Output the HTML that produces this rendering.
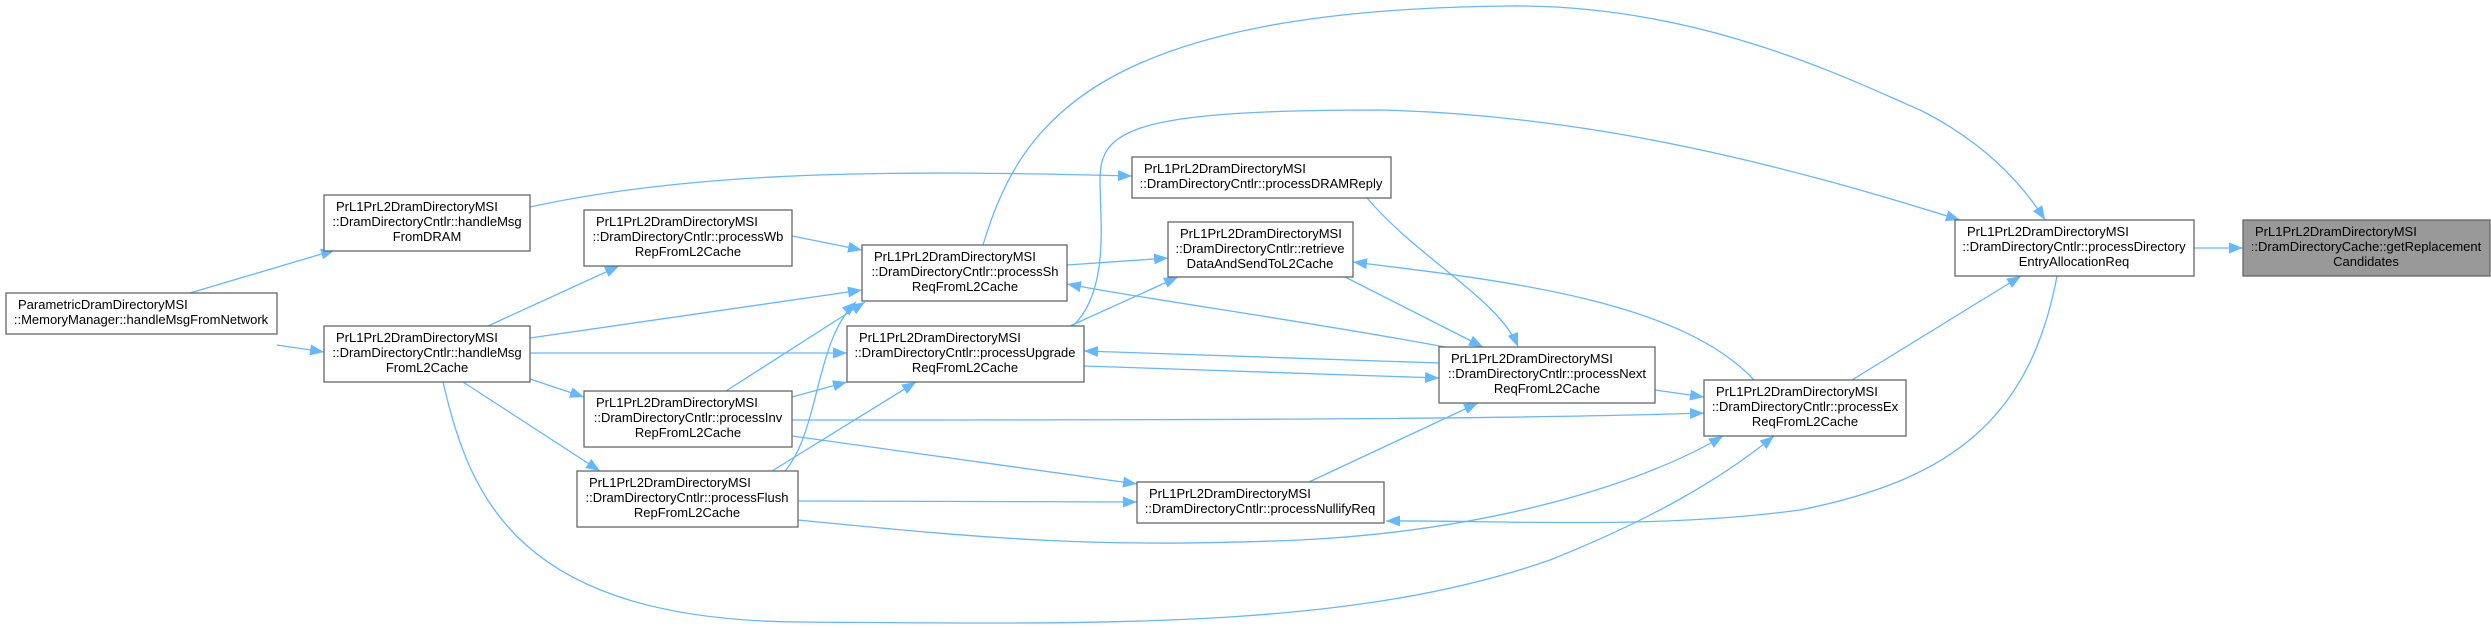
<!DOCTYPE html>
<html><head><meta charset="utf-8"><style>
html,body{margin:0;padding:0;background:#fff;}
svg{display:block;}
text{font-family:"Liberation Sans",Arial,sans-serif;font-size:13px;fill:#000;}
.b{fill:#fff;stroke:#666;stroke-width:1.3;}
.e{fill:none;stroke:#63b8ff;stroke-width:1.3;}
</style></head><body>
<svg width="2491" height="628" viewBox="0 0 2491 628" xmlns="http://www.w3.org/2000/svg">
<defs>
<marker id="a" markerUnits="userSpaceOnUse" markerWidth="16" markerHeight="12" refX="14" refY="5.5" orient="auto">
<path d="M0,0 L14,5.5 L0,11 z" fill="#63b8ff"/>
</marker>
</defs>
<g marker-end="url(#a)">
<path class="e" d="M190,293 L335,250"/>
<path class="e" d="M277,345 L324,352"/>
<path class="e" d="M530,207 C700,170 900,170 1132,176"/>
<path class="e" d="M488,326 L619,266"/>
<path class="e" d="M530,338 L862,290"/>
<path class="e" d="M530,353 L847,353"/>
<path class="e" d="M530,379 L584,397"/>
<path class="e" d="M463,382 L600,471"/>
<path class="e" d="M443,382 C470,500 520,620 800,622 C1100,624 1350,630 1550,560 C1650,520 1720,480 1774,436"/>
<path class="e" d="M792,236 L862,250"/>
<path class="e" d="M726,391 L865,302"/>
<path class="e" d="M792,397 L847,382"/>
<path class="e" d="M792,420 C1100,420 1500,420 1704,413"/>
<path class="e" d="M792,436 L1137,484"/>
<path class="e" d="M785,471 C820,430 815,340 856,302"/>
<path class="e" d="M772,471 L916,382"/>
<path class="e" d="M798,501 L1137,502"/>
<path class="e" d="M798,520 C1000,540 1100,548 1300,540 C1500,530 1650,480 1723,436"/>
<path class="e" d="M983,245 C1020,120 1100,10 1509,6 C1700,4 1850,80 1920,110 C1980,140 2020,180 2045,220"/>
<path class="e" d="M1073,326 C1110,290 1100,220 1100,180 C1100,130 1130,110 1380,110 C1600,115 1800,170 1960,220"/>
<path class="e" d="M1067,265 L1168,258"/>
<path class="e" d="M1445,347 C1300,320 1150,300 1067,284"/>
<path class="e" d="M1070,326 L1178,277"/>
<path class="e" d="M1345,277 L1483,347"/>
<path class="e" d="M1754,380 C1680,300 1500,280 1353,262"/>
<path class="e" d="M1439,363 L1084,351"/>
<path class="e" d="M1084,366 L1439,378"/>
<path class="e" d="M1367,198 C1420,260 1500,300 1518,347"/>
<path class="e" d="M1309,482 L1478,403"/>
<path class="e" d="M1655,390 L1704,397"/>
<path class="e" d="M1852,380 L2021,276"/>
<path class="e" d="M2057,276 C2030,420 1950,480 1800,510 C1650,530 1500,520 1386,521"/>
<path class="e" d="M2194,248 L2243,248"/>
</g>

<rect class="b" x="6" y="293" width="271" height="41"/>
<text x="18" y="309">ParametricDramDirectoryMSI</text>
<text x="141" y="324" text-anchor="middle">::MemoryManager::handleMsgFromNetwork</text>

<rect class="b" x="324" y="195" width="206" height="56"/>
<text x="336" y="211">PrL1PrL2DramDirectoryMSI</text>
<text x="427" y="226" text-anchor="middle">::DramDirectoryCntlr::handleMsg</text>
<text x="427" y="241" text-anchor="middle">FromDRAM</text>

<rect class="b" x="324" y="326" width="206" height="56"/>
<text x="336" y="342">PrL1PrL2DramDirectoryMSI</text>
<text x="427" y="357" text-anchor="middle">::DramDirectoryCntlr::handleMsg</text>
<text x="427" y="372" text-anchor="middle">FromL2Cache</text>

<rect class="b" x="584" y="210" width="208" height="56"/>
<text x="596" y="226">PrL1PrL2DramDirectoryMSI</text>
<text x="688" y="241" text-anchor="middle">::DramDirectoryCntlr::processWb</text>
<text x="688" y="256" text-anchor="middle">RepFromL2Cache</text>

<rect class="b" x="862" y="245" width="205" height="56"/>
<text x="874" y="261">PrL1PrL2DramDirectoryMSI</text>
<text x="965" y="276" text-anchor="middle">::DramDirectoryCntlr::processSh</text>
<text x="965" y="291" text-anchor="middle">ReqFromL2Cache</text>

<rect class="b" x="847" y="326" width="237" height="56"/>
<text x="859" y="342">PrL1PrL2DramDirectoryMSI</text>
<text x="965" y="357" text-anchor="middle">::DramDirectoryCntlr::processUpgrade</text>
<text x="965" y="372" text-anchor="middle">ReqFromL2Cache</text>

<rect class="b" x="584" y="391" width="208" height="56"/>
<text x="596" y="407">PrL1PrL2DramDirectoryMSI</text>
<text x="688" y="422" text-anchor="middle">::DramDirectoryCntlr::processInv</text>
<text x="688" y="437" text-anchor="middle">RepFromL2Cache</text>

<rect class="b" x="577" y="471" width="221" height="56"/>
<text x="589" y="487">PrL1PrL2DramDirectoryMSI</text>
<text x="687" y="502" text-anchor="middle">::DramDirectoryCntlr::processFlush</text>
<text x="687" y="517" text-anchor="middle">RepFromL2Cache</text>

<rect class="b" x="1132" y="157" width="259" height="41"/>
<text x="1144" y="173">PrL1PrL2DramDirectoryMSI</text>
<text x="1261" y="188" text-anchor="middle">::DramDirectoryCntlr::processDRAMReply</text>

<rect class="b" x="1168" y="222" width="185" height="55"/>
<text x="1180" y="238">PrL1PrL2DramDirectoryMSI</text>
<text x="1260" y="253" text-anchor="middle">::DramDirectoryCntlr::retrieve</text>
<text x="1260" y="268" text-anchor="middle">DataAndSendToL2Cache</text>

<rect class="b" x="1439" y="347" width="216" height="56"/>
<text x="1451" y="363">PrL1PrL2DramDirectoryMSI</text>
<text x="1547" y="378" text-anchor="middle">::DramDirectoryCntlr::processNext</text>
<text x="1547" y="393" text-anchor="middle">ReqFromL2Cache</text>

<rect class="b" x="1137" y="482" width="247" height="41"/>
<text x="1149" y="498">PrL1PrL2DramDirectoryMSI</text>
<text x="1260" y="513" text-anchor="middle">::DramDirectoryCntlr::processNullifyReq</text>

<rect class="b" x="1704" y="380" width="202" height="56"/>
<text x="1716" y="396">PrL1PrL2DramDirectoryMSI</text>
<text x="1805" y="411" text-anchor="middle">::DramDirectoryCntlr::processEx</text>
<text x="1805" y="426" text-anchor="middle">ReqFromL2Cache</text>

<rect class="b" x="1955" y="220" width="239" height="56"/>
<text x="1967" y="236">PrL1PrL2DramDirectoryMSI</text>
<text x="2074" y="251" text-anchor="middle">::DramDirectoryCntlr::processDirectory</text>
<text x="2074" y="266" text-anchor="middle">EntryAllocationReq</text>

<rect x="2243" y="220" width="247" height="56" fill="#999" stroke="#666" stroke-width="1.3"/>
<text x="2255" y="236">PrL1PrL2DramDirectoryMSI</text>
<text x="2366" y="251" text-anchor="middle">::DramDirectoryCache::getReplacement</text>
<text x="2366" y="266" text-anchor="middle">Candidates</text>
</svg>
</body></html>
